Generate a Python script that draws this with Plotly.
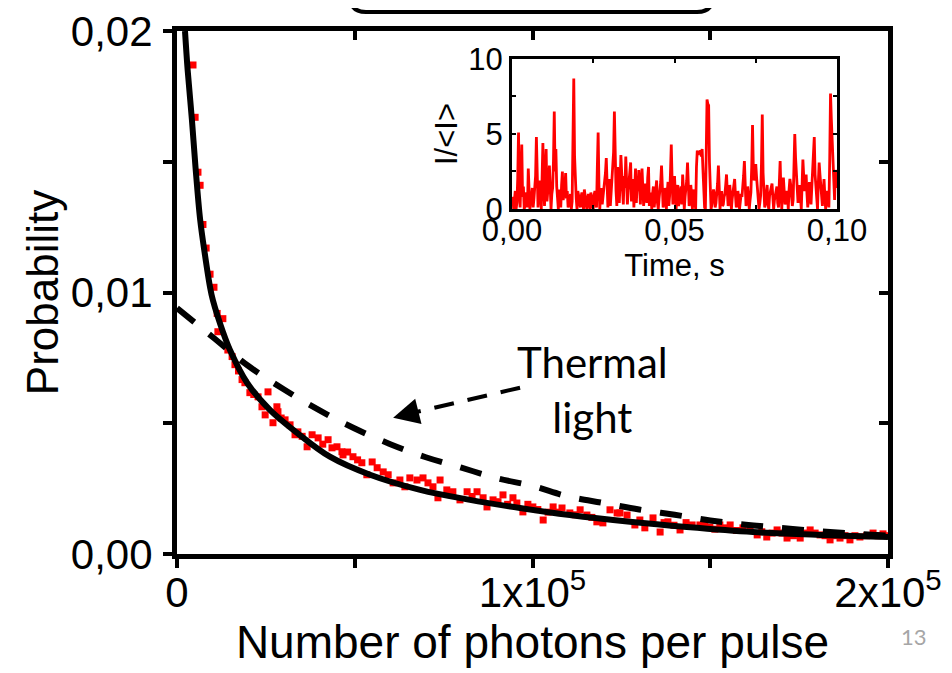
import plotly.graph_objects as go

# ---------------- data ----------------
meas_x = [4500, 5100, 5900, 6500, 7300, 8200, 9300, 10400, 11300, 11500, 12900, 14300, 15500, 16300,
          17300, 18300, 19100, 20500, 21600, 22800, 23900, 24800, 25600, 27000, 28100, 28400, 29300,
          30400, 31800, 33200, 34000, 35200, 36600, 38000, 39700, 41000, 42500, 43600, 45000, 46400,
          46700, 48000, 49500, 50800, 52000, 53400, 54900, 56300, 58000, 59400, 60800, 62700, 64100,
          65500, 67500, 69200, 70600, 72000, 73400, 74000, 75900, 77600, 79600, 81600, 83000, 84400,
          86100, 87200, 88900, 90300, 91700, 93000, 94500, 95600, 97300, 98700, 100100, 101500, 103000,
          104400, 105800, 107000, 108300, 110500, 112000, 113400, 115300, 116700, 118100, 119800, 121800,
          123800, 124600, 126600, 128800, 130200, 131600, 133900, 135900, 137000, 138100, 139800, 141500,
          143200, 144900, 147100, 148500, 149900, 151300, 152700, 154200, 155600, 157400, 159200, 161200,
          163200, 164500, 165900, 167400, 168800, 170200, 171600, 173400, 175300, 176700, 178100, 179500,
          180900, 182300, 183700, 185100, 186500, 187900, 189300, 190700, 192100, 194000, 195800, 197200,
          198600, 199800]
meas_y = [0.0187, 0.0167, 0.0146, 0.0141, 0.0126, 0.0117, 0.0107, 0.0102, 0.0092, 0.0085, 0.0090, 0.0078,
          0.00755, 0.00724, 0.0070, 0.00667, 0.00655, 0.00617, 0.0061, 0.00601, 0.00563, 0.00532, 0.0062,
          0.00502, 0.00563, 0.00544, 0.0052, 0.00513, 0.00494, 0.00456, 0.00467, 0.0045, 0.0041, 0.00456,
          0.00444, 0.0042, 0.00437, 0.00406, 0.0041, 0.00391, 0.00379, 0.0039, 0.00372, 0.0036, 0.00349,
          0.00303, 0.00352, 0.0033, 0.00314, 0.00303, 0.00272, 0.00283, 0.00257, 0.00291, 0.00283, 0.00291,
          0.00272, 0.00257, 0.00215, 0.00283, 0.00245, 0.00238, 0.00207, 0.00238, 0.0022, 0.00238, 0.00215,
          0.0018, 0.00207, 0.0020, 0.00226, 0.0019, 0.00215, 0.00195, 0.00161, 0.0019, 0.0018, 0.0017,
          0.0013, 0.0016, 0.0018, 0.0016, 0.00176, 0.00157, 0.0015, 0.00169, 0.00149, 0.0014, 0.00123,
          0.00119, 0.00169, 0.00157, 0.00157, 0.00149, 0.00111, 0.0013, 0.0010, 0.00138, 0.00084, 0.0012,
          0.00123, 0.0011, 0.00092, 0.0012, 0.00111, 0.00111, 0.0012, 0.00103, 0.00095, 0.00111, 0.0010,
          0.00111, 0.0009, 0.0010, 0.0009, 0.00073, 0.00085, 0.00065, 0.0008, 0.00092, 0.0008, 0.00061,
          0.0007, 0.00061, 0.0008, 0.00092, 0.0008, 0.00073, 0.0007, 0.00054, 0.0007, 0.00061, 0.0007,
          0.00054, 0.0007, 0.00065, 0.0007, 0.0008, 0.0007, 0.00077, 0.0007]

fit_x = [2250, 3000, 4200, 5200, 6500, 7800, 9300, 10100, 12900, 14900, 19700, 26200, 33700, 43000,
         54300, 68400, 82400, 96500, 110500, 127400, 143400, 162000, 180900, 200000]
fit_y = [0.0200, 0.0185, 0.0166, 0.0148, 0.0128, 0.0115, 0.0102, 0.0097, 0.0085, 0.0078, 0.00655,
         0.0055, 0.00464, 0.00372, 0.00303, 0.00245, 0.00207, 0.00176, 0.00149, 0.00123, 0.00103,
         0.00084, 0.00073, 0.00065]

thermal_x = [0, 10000, 20000, 30000, 40000, 50000, 60000, 70000, 80000, 90000, 100000, 110000,
             120000, 130000, 140000, 150000, 160000, 170000, 180000, 190000, 200000]
thermal_y = [0.0094, 0.0083, 0.0072, 0.0063, 0.0055, 0.0048, 0.0042, 0.0037, 0.0033, 0.0029, 0.0026,
             0.0022, 0.00195, 0.0017, 0.0015, 0.00128, 0.00112, 0.0010, 0.00088, 0.00078, 0.0007]

inset_step = 0.00025
inset_v = [
    0.3, 0.8, 0.0, 0.5, 1.2, 0.0, 0.4, 2.0, 5.1, 1.0, 0.1, 2.2, 4.3, 0.8, 1.5, 0.0, 0.2, 1.1, 0.9, 0.1,
    2.7, 1.3, 0.0, 0.6, 0.8, 1.4, 0.1, 0.7, 1.6, 2.2, 4.8, 1.2, 0.1, 0.9, 1.9, 1.2, 0.0, 2.1, 4.4, 1.6,
    0.2, 2.4, 4.0, 0.5, 1.1, 1.8, 2.9, 0.6, 0.0, 1.0, 1.4, 3.2, 6.5, 2.5, 4.0, 1.5, 0.6, 0.0, 1.3, 0.8,
    0.1, 1.6, 2.5, 0.6, 0.9, 1.4, 2.4, 0.7, 1.2, 0.1, 0.3, 0.7, 1.0, 0.0, 0.5, 4.6, 8.7, 3.5, 1.8, 0.7,
    0.0, 1.2, 0.9, 0.5, 0.1, 0.8, 1.1, 0.4, 0.0, 1.3, 0.9, 0.6, 0.0, 0.7, 1.0, 0.3, 0.0, 1.1, 0.8, 0.2,
    0.0, 0.9, 1.2, 0.5, 0.1, 2.8, 5.1, 1.6, 0.0, 0.9, 1.4, 0.3, 0.8, 1.2, 1.6, 2.4, 3.4, 1.5, 0.1, 1.3,
    2.0, 0.2, 1.1, 1.7, 2.6, 3.8, 6.5, 2.1, 1.2, 0.2, 2.8, 1.9, 0.4, 1.7, 3.6, 2.4, 1.5, 0.3, 2.2, 1.4,
    3.5, 1.8, 0.3, 1.2, 2.0, 2.6, 3.1, 0.5, 1.3, 2.0, 0.1, 1.1, 2.7, 0.4, 1.6, 1.2, 2.6, 1.5, 0.3, 1.8,
    2.7, 1.4, 0.2, 0.9, 1.7, 1.3, 0.4, 2.1, 2.8, 0.2, 1.1, 0.8, 0.0, 1.0, 1.5, 0.1, 0.7, 1.1, 1.9, 0.4,
    0.0, 0.7, 1.2, 1.8, 2.9, 1.3, 0.1, 0.4, 1.4, 0.9, 0.0, 1.1, 1.8, 0.2, 0.9, 2.4, 4.3, 2.0, 0.3, 1.5,
    2.2, 0.9, 0.0, 1.0, 1.6, 0.2, 0.8, 1.1, 1.5, 0.3, 2.3, 1.3, 0.0, 0.8, 1.3, 1.9, 3.1, 1.4, 0.2, 0.5,
    1.6, 1.0, 0.0, 0.7, 1.3, 0.5, 0.0, 2.8, 3.9, 3.6, 3.8, 3.7, 3.9, 3.5, 4.0, 2.6, 1.2, 0.1, 0.0, 3.4,
    7.3, 7.0, 6.9, 3.1, 0.9, 0.0, 0.3, 0.8, 1.3, 1.0, 0.1, 0.4, 1.0, 1.7, 2.9, 1.4, 0.0, 0.9, 1.2, 0.2,
    0.3, 0.8, 1.0, 1.6, 2.3, 1.1, 0.2, 0.4, 1.6, 0.9, 0.0, 0.7, 1.1, 1.4, 2.0, 0.9, 0.1, 0.3, 1.2, 0.7,
    0.0, 0.5, 1.0, 0.8, 1.3, 2.2, 3.2, 1.7, 0.2, 0.6, 1.5, 0.9, 0.0, 0.6, 1.1, 2.8, 5.6, 2.7, 1.9, 2.4,
    3.0, 2.1, 1.4, 0.3, 0.0, 0.4, 0.9, 3.0, 6.3, 2.4, 0.8, 0.1, 0.4, 1.0, 1.6, 0.3, 0.0, 0.9, 1.2, 1.4,
    1.7, 0.8, 0.0, 0.6, 1.0, 1.2, 1.5, 0.4, 0.1, 1.8, 3.2, 1.1, 0.0, 1.3, 2.1, 1.2, 0.3, 0.5, 1.2, 0.9,
    0.0, 1.3, 2.0, 1.6, 1.1, 0.2, 0.6, 2.4, 5.0, 3.4, 2.6, 1.5, 0.4, 1.2, 1.6, 0.8, 0.0, 1.6, 3.3, 2.2,
    1.2, 1.6, 2.3, 1.0, 0.1, 0.9, 1.8, 1.3, 0.3, 1.5, 2.6, 3.5, 4.8, 2.3, 1.5, 0.4, 0.0, 1.7, 3.1, 2.3,
    1.7, 1.1, 0.2, 1.2, 2.0, 0.9, 0.0, 0.6, 1.2, 0.8, 0.1, 3.3, 7.7, 6.0, 4.6, 2.5, 1.3, 0.6, 2.6, 1.9,
    1.4]
inset_t = [round(i * inset_step, 5) for i in range(len(inset_v))]

x_tickvals = [0, 50000, 100000, 150000, 200000]
x_ticktext = ["0", "", "1x10<sup>5</sup>", "", "2x10<sup>5</sup>"]
y_tickvals = [0, 0.005, 0.01, 0.015, 0.02]
y_ticktext = ["0,00", "", "0,01", "", "0,02"]
ix_tickvals = [0, 0.025, 0.05, 0.075, 0.1]
ix_ticktext = ["0,00", "", "0,05", "", "0,10"]
iy_tickvals = [0, 2.5, 5, 7.5, 10]
iy_ticktext = ["0", "", "5", "", "10"]

FONT = "Liberation Sans, Arial, sans-serif"

fig = go.Figure()
fig.add_trace(go.Scatter(x=meas_x, y=meas_y, mode="markers",
                         marker=dict(symbol="square", size=7, color="#ff0000"),
                         showlegend=False))
fig.add_trace(go.Scatter(x=thermal_x, y=thermal_y, mode="lines",
                         line=dict(color="black", width=6, dash="22px,19px", shape="spline"),
                         showlegend=False))
fig.add_trace(go.Scatter(x=fit_x, y=fit_y, mode="lines",
                         line=dict(color="black", width=6, shape="spline"),
                         showlegend=False))
# inset
fig.add_trace(go.Scatter(x=inset_t, y=inset_v, mode="lines", xaxis="x2", yaxis="y2",
                         line=dict(color="#ff0000", width=2.8), showlegend=False))
# helper (invisible) trace so the mirrored inside-tick axes are drawn
fig.add_trace(go.Scatter(x=[None], y=[None], xaxis="x3", yaxis="y3", mode="markers",
                         showlegend=False, hoverinfo="skip"))

main_ax = dict(showgrid=False, zeroline=False, showline=True, linecolor="black", linewidth=5,
               mirror=True, ticks="outside", ticklen=9, tickwidth=4, tickcolor="black",
               automargin=False, ticklabeloverflow="allow",
               tickfont=dict(family=FONT, size=42, color="black"))

# the page body adds an 8px offset, so the figure is sized 8px smaller than the window
fig.update_layout(
    width=944, height=665,
    margin=dict(l=169, r=64, t=23, b=119, pad=0),
    paper_bgcolor="white", plot_bgcolor="white",
    xaxis=dict(main_ax, range=[0, 200000], domain=[0, 1], anchor="y",
               tickmode="array", tickvals=x_tickvals, ticktext=x_ticktext, ticklabelstandoff=-11,
               title=dict(text="Number of photons per pulse", standoff=0,
                          font=dict(family=FONT, size=46, color="black"))),
    yaxis=dict(main_ax, range=[0, 0.02], domain=[0, 1], anchor="x",
               tickmode="array", tickvals=y_tickvals, ticktext=y_ticktext, ticklabelstandoff=2,
               title=dict(text="Probability", standoff=0,
                          font=dict(family=FONT, size=44, color="black"))),
    xaxis3=dict(range=[0, 200000], overlaying="x", side="top", anchor="y3", automargin=False,
                showgrid=False, zeroline=False, showline=False,
                tickmode="array", tickvals=x_tickvals, ticktext=[""] * 5,
                ticks="inside", ticklen=9, tickwidth=4, tickcolor="black"),
    yaxis3=dict(range=[0, 0.02], overlaying="y", side="right", anchor="x3", automargin=False,
                showgrid=False, zeroline=False, showline=False,
                tickmode="array", tickvals=y_tickvals, ticktext=[""] * 5,
                ticks="inside", ticklen=9, tickwidth=4, tickcolor="black"),
    xaxis2=dict(domain=[0.4712, 0.9283], anchor="y2", range=[0, 0.1], automargin=False,
                showgrid=False, zeroline=False, showline=True, linecolor="black", linewidth=3,
                mirror="ticks", ticks="inside", ticklen=4, tickwidth=2, tickcolor="black",
                tickmode="array", tickvals=ix_tickvals, ticktext=ix_ticktext, ticklabelstandoff=-8,
                tickfont=dict(family=FONT, size=31, color="black"),
                title=dict(text="Time, s", standoff=0,
                           font=dict(family=FONT, size=31, color="black"))),
    yaxis2=dict(domain=[0.6597, 0.9465], anchor="x2", range=[0, 10], automargin=False,
                showgrid=False, zeroline=False, showline=True, linecolor="black", linewidth=3,
                mirror="ticks", ticks="inside", ticklen=4, tickwidth=2, tickcolor="black",
                tickmode="array", tickvals=iy_tickvals, ticktext=iy_ticktext,
                tickfont=dict(family=FONT, size=31, color="black"),
                title=dict(text="I/&lt;I&gt;", standoff=2,
                           font=dict(family=FONT, size=31, color="black"))),
)

# "Thermal light" label with dashed arrow
fig.add_shape(type="line", xref="x", yref="y", x0=96500, y0=0.00636, x1=63500, y1=0.00531,
              line=dict(color="black", width=4, dash="20px,14px"))
fig.add_annotation(x=60800, y=0.00521, xref="x", yref="y", ax=20, ay=-5, axref="pixel", ayref="pixel",
                   text="", showarrow=True, arrowhead=2, arrowsize=1.3, arrowwidth=4, arrowcolor="black")
fig.add_annotation(x=117000, y=0.00628, xref="x", yref="y", text="Thermal<br>light", showarrow=False,
                   font=dict(family="Lato, Open Sans, sans-serif", size=42, color="black"),
                   align="center", xanchor="center", yanchor="middle")

# cropped rounded box at the top of the slide (plot area spans window px 177..888 x 31..554)
x0, x1 = (350 - 177) / 711, (713 - 177) / 711
yb, yt = (554 - 12) / 523, (554 + 30) / 523
rx, ry = 16 / 711, 16 / 523
path = (f"M {x0},{yt} L {x0},{yb + ry} Q {x0},{yb} {x0 + rx},{yb} "
        f"L {x1 - rx},{yb} Q {x1},{yb} {x1},{yb + ry} L {x1},{yt}")
fig.add_shape(type="path", xref="paper", yref="paper", path=path, line=dict(color="black", width=4))

# slide number
fig.add_annotation(x=(914 - 177) / 711, y=(554 - 636) / 523, xref="paper", yref="paper", text="13",
                   showarrow=False, xanchor="center", yanchor="middle",
                   font=dict(family="Lato, sans-serif", size=22, color="#a6a6a6"))

fig.write_html("out.html")
